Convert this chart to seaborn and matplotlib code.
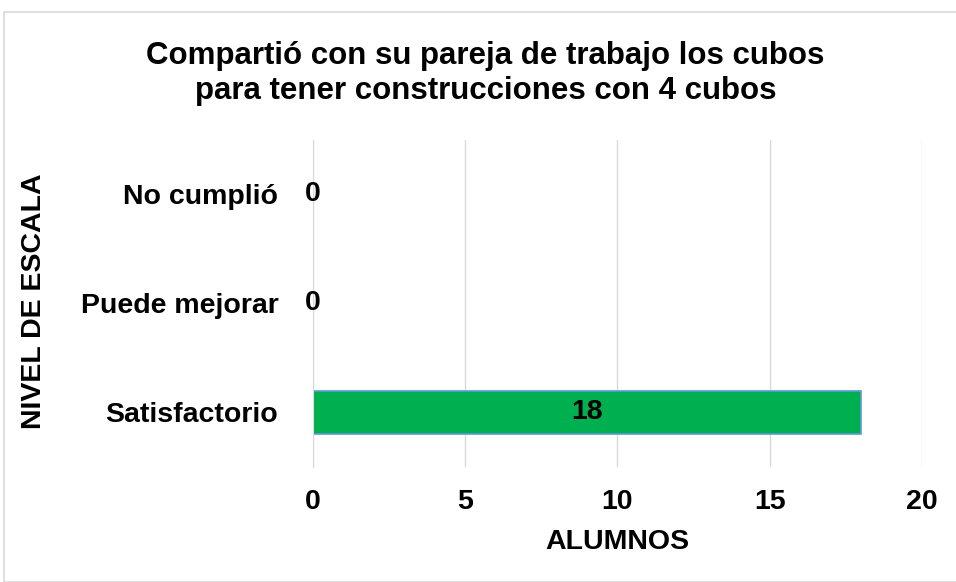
import pandas as pd
import matplotlib.pyplot as plt
import seaborn as sns
from matplotlib.patches import Rectangle

categorias = ['No cumplió', 'Puede mejorar', 'Satisfactorio']
alumnos = [0, 0, 18]
xticks = [0, 5, 10, 15, 20]

df = pd.DataFrame({'nivel': categorias, 'alumnos': alumnos})

sns.set_style('white')
plt.rcParams['font.family'] = ['Liberation Sans', 'DejaVu Sans']
plt.rcParams['font.weight'] = 'bold'
plt.rcParams['text.color'] = 'black'
plt.rcParams['axes.labelcolor'] = 'black'
plt.rcParams['xtick.color'] = 'black'
plt.rcParams['ytick.color'] = 'black'

fig = plt.figure(figsize=(9.56, 5.82), dpi=100)
ax = fig.add_axes([0.3274, 0.1976, 0.637, 0.5619])

sns.barplot(data=df, x='alumnos', y='nivel', order=categorias, orient='h',
            color='#00B050', edgecolor='#5B9BD5', linewidth=1.2,
            width=0.4, saturation=1, ax=ax)

fs = 20.5
ax.set_xlim(0, 20)
ax.set_ylim(2.5, -0.5)
ax.set_xticks(xticks)
ax.set_xticklabels([str(t) for t in xticks], fontsize=fs, fontweight='bold')
ax.tick_params(axis='y', labelsize=fs, length=0, pad=25)
ax.tick_params(axis='x', length=0, pad=16)
for lbl in ax.get_yticklabels():
    lbl.set_fontweight('bold')
ax.grid(axis='x', color='#D9D9D9', linewidth=1)
ax.set_axisbelow(True)
for s in ['top', 'right', 'bottom']:
    ax.spines[s].set_visible(False)
ax.spines['left'].set_color('#D9D9D9')

for i, v in enumerate(alumnos):
    xpos = v / 2 if v > 0 else v
    ax.text(xpos, i, str(v), ha='center', va='center', fontsize=fs, fontweight='bold')

ax.set_xlabel('ALUMNOS', fontsize=fs, fontweight='bold', labelpad=10)
ax.set_ylabel('NIVEL DE ESCALA', fontsize=fs, fontweight='bold')
ax.yaxis.set_label_coords(-0.437, 0.508)

fig.suptitle('Compartió con su pareja de trabajo los cubos\npara tener construcciones con 4 cubos',
             x=0.508, y=0.93, fontsize=22.5, fontweight='bold', linespacing=1.25)

fig.patches.append(Rectangle((4 / 956, 0), 1, 1 - 12 / 582, transform=fig.transFigure,
                             fill=False, edgecolor='#D9D9D9', linewidth=1.2))

fig.savefig('out.png', dpi=100)
